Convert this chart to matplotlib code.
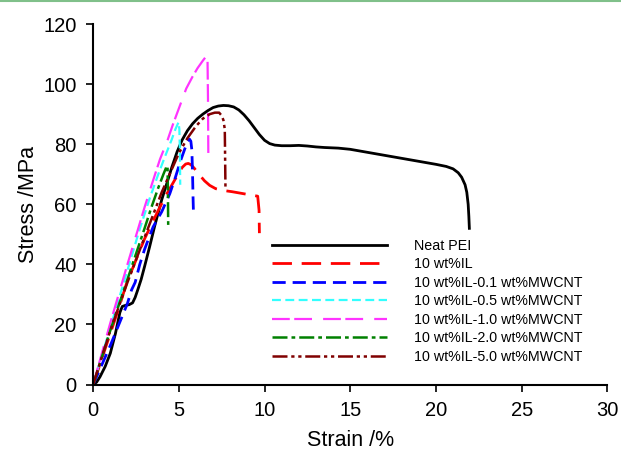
import matplotlib
matplotlib.use('Agg')
import matplotlib.pyplot as plt
from matplotlib.lines import Line2D

plt.rcParams['font.family'] = ['Liberation Sans', 'DejaVu Sans']

# data (strain %, stress MPa)
pei_strain = [0, 0.2, 0.4, 0.7, 1.0, 1.3, 1.56, 1.7, 1.9, 2.1, 2.3, 2.45, 2.6, 2.8, 3.0, 3.3,
              3.6, 4.0, 4.3, 4.6, 4.9, 5.2, 5.5, 5.8, 6.1, 6.4, 6.7, 7.0, 7.3, 7.6, 7.9, 8.2,
              8.5, 8.8, 9.1, 9.4, 9.7, 10.0, 10.3, 10.6, 11.0, 11.5, 12.0, 12.5, 13.0, 13.5,
              14.3, 15.0, 16.0, 17.0, 18.0, 19.0, 20.0, 20.6, 21.0, 21.3, 21.5, 21.7, 21.8,
              21.88, 21.92, 21.95]
pei_stress = [0, 0.8, 2.6, 6, 10.4, 17, 24, 26, 26.4, 26.6, 27.2, 29, 31.5, 35, 39.3, 46,
              53, 61.5, 67, 72.5, 77.5, 81.5, 84.5, 86.8, 88.6, 90, 91.2, 92.2, 92.7, 92.9,
              92.8, 92.4, 91.4, 89.8, 87.8, 85.5, 83.2, 81.3, 80.2, 79.7, 79.5, 79.5, 79.6,
              79.4, 79.1, 78.9, 78.7, 78.3, 77.3, 76.3, 75.3, 74.3, 73.3, 72.6, 71.8, 70.5,
              69, 66.5, 64, 60, 56, 52]

il_strain = [0, 0.5, 1, 1.5, 1.95, 2.5, 3, 3.5, 3.89, 4.3, 4.7, 5.0, 5.2, 5.4, 5.55, 5.7,
             5.9, 6.2, 6.5, 6.8, 7.15, 7.6, 8.1, 8.6, 9.1, 9.6, 9.68, 9.7]
il_stress = [0, 8.5, 17, 25.5, 33.7, 41.5, 48.5, 54.5, 59, 63.5, 67.5, 70.5, 72.3, 73.4,
             73.6, 73.2, 72, 69.8, 67.8, 66.3, 65.2, 64.6, 64.2, 63.7, 63.2, 62.7, 58, 50.4]

c01_strain = [0, 0.5, 1, 1.5, 2.0, 2.24, 2.45, 2.72, 3.0, 3.5, 4.0, 4.47, 4.8, 5.1, 5.35,
              5.52, 5.62, 5.7, 5.76, 5.8, 5.83, 5.85]
c01_stress = [0, 6.5, 13, 20, 27, 31.5, 34, 40, 45, 52.5, 57.5, 63.5, 69, 74.5, 78.5, 81,
              81.7, 81, 78, 70, 62, 57.6]

c05_strain = [0, 1, 2, 2.73, 3.3, 3.8, 4.2, 4.58, 4.8, 4.98, 5.03, 5.06, 5.08]
c05_stress = [0, 19, 38, 52, 62, 70, 76, 81.5, 85, 87.3, 85, 78, 66.5]

c10_strain = [0, 1, 2, 2.5, 3.0, 3.5, 3.9, 4.35, 4.65, 5.04, 5.43, 5.8, 6.09, 6.4, 6.67,
              6.7, 6.72]
c10_stress = [0, 20.5, 40, 49.5, 59, 68, 75, 81.5, 86.5, 92.5, 98.5, 102.5, 105.3, 107.8,
              109.8, 95, 76.5]

c20_strain = [0, 0.5, 1, 1.5, 2, 2.5, 3, 3.4, 3.8, 4.1, 4.3, 4.34, 4.36, 4.38]
c20_stress = [0, 9, 18, 26.5, 35, 43.5, 52, 59, 65.5, 70, 72.8, 72.6, 65, 52]

c50_strain = [0, 0.5, 1, 1.5, 2, 2.5, 3, 3.5, 4, 4.5, 5, 5.5, 6, 6.4, 6.8, 7.1, 7.35, 7.5,
              7.6, 7.68, 7.72]
c50_stress = [0, 9, 18, 26, 34, 41.5, 49, 56.5, 64, 70.5, 77, 82, 86, 88.5, 90, 90.5, 90.5,
              89.5, 88, 85, 65.4]

labels = ['Neat PEI', '10 wt%IL', '10 wt%IL-0.1 wt%MWCNT', '10 wt%IL-0.5 wt%MWCNT',
          '10 wt%IL-1.0 wt%MWCNT', '10 wt%IL-2.0 wt%MWCNT', '10 wt%IL-5.0 wt%MWCNT']
series = [(pei_strain, pei_stress), (il_strain, il_stress), (c01_strain, c01_stress),
          (c05_strain, c05_stress), (c10_strain, c10_stress), (c20_strain, c20_stress),
          (c50_strain, c50_stress)]
COLORS = ['#000000', '#ff0000', '#0000ff', '#33ffff', '#ff33ff', '#008000', '#800000']
DASHES = [None, (7, 3.5), (4.75, 2.5), (4, 2), (8, 2, 8, 5), (6, 1.6, 1.5, 1.6),
          (6, 1.5, 1.3, 1.5, 1.3, 1.5)]
WIDTHS = [2.0, 2.0, 2.0, 1.6, 1.6, 1.8, 1.8]

fig = plt.figure(figsize=(6.21, 4.53), dpi=100)
ax = fig.add_axes([0.15, 0.151, 0.828, 0.796])

handles = []
for i, (x, y) in enumerate(series):
    ln, = ax.plot(x, y, color=COLORS[i], lw=WIDTHS[i], label=labels[i])
    if DASHES[i] is not None:
        ln.set_dashes(DASHES[i])
    handles.append(ln)

ax.set_xlim(0, 30)
ax.set_ylim(0, 120)
ax.set_xticks(range(0, 31, 5))
ax.set_yticks(range(0, 121, 20))
ax.spines['top'].set_visible(False)
ax.spines['right'].set_visible(False)
ax.spines['left'].set_linewidth(1.5)
ax.spines['bottom'].set_linewidth(1.5)
ax.tick_params(direction='out', length=5, width=1.2, labelsize=14.5, pad=7)
ax.set_xlabel('Strain /%', fontsize=15.5, labelpad=7)
ax.set_ylabel('Stress /MPa', fontsize=15.5, labelpad=3)

ax.legend(handles=handles, loc='upper left', bbox_to_anchor=(0.348, 0.405), frameon=False,
          fontsize=10.3, handlelength=8.0, handletextpad=1.95, labelspacing=0.32,
          borderpad=0, borderaxespad=0)

fig.add_artist(Line2D([0, 1], [0.997, 0.997], transform=fig.transFigure,
                      color='#80c08a', lw=1.5))

fig.savefig('out.png', dpi=100)
